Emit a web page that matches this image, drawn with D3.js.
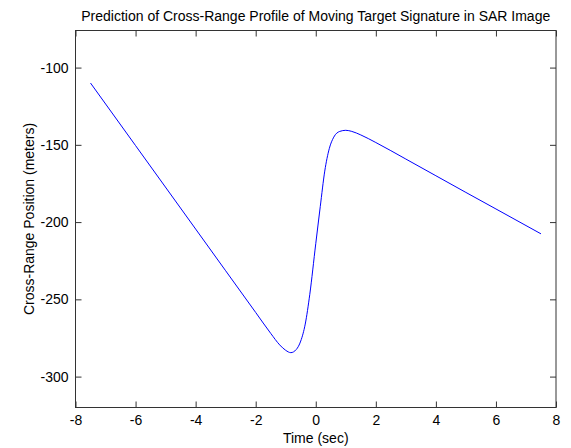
<!DOCTYPE html>
<html><head><meta charset="utf-8">
<script src="https://cdn.jsdelivr.net/npm/d3@7"></script>
<style>body{margin:0;background:#fff;} text{font-family:"Liberation Sans",Arial,sans-serif;}</style>
</head><body>
<svg id="c" width="571" height="448"></svg>
<script>
const titleText = "Prediction of Cross-Range Profile of Moving Target Signature in SAR Image";
const xLabel = "Time (sec)";
const yLabel = "Cross-Range Position (meters)";
const xTicks = [-8,-6,-4,-2,0,2,4,6,8];
const yTicks = [-300,-250,-200,-150,-100];
const time = [-7.5,-6,-4,-3,-2,-1.5,-1.2,-1.0,-0.83,-0.65,-0.5,-0.35,-0.2,0,0.15,0.3,0.45,0.6,0.8,1.0,1.2,1.5,2,3,4,5,6,7.5];
const position = [-110,-150.5,-204.5,-231.5,-258.5,-272,-279.5,-283,-284.5,-282.5,-277,-266,-247,-214,-190,-167,-152.5,-145,-141.3,-140.6,-141.3,-143.6,-148.5,-159.2,-170,-180.8,-191.5,-207.6];

const m = {left:75.5, right:556, top:30.5, bottom:407.5};
const svg = d3.select("#c");
const x = d3.scaleLinear().domain([-8,8]).range([m.left,m.right]);
const y = d3.scaleLinear().domain([-320,-76]).range([m.bottom,m.top]);
const axCol = "#333";
const fs = "14px";
const fmt = d => String(d);

function styleAxis(g, labels){
  g.select(".domain").remove();
  g.selectAll(".tick line").attr("stroke",axCol);
  g.selectAll(".tick text").attr("fill","#000").style("font-size",fs);
  if(!labels) g.selectAll(".tick text").remove();
}
svg.append("g").attr("transform",`translate(0,${m.bottom})`)
  .call(d3.axisBottom(x).tickValues(xTicks).tickSize(-6).tickPadding(8).tickFormat(fmt))
  .call(g=>styleAxis(g,true));
svg.append("g").attr("transform",`translate(0,${m.top})`)
  .call(d3.axisTop(x).tickValues(xTicks).tickSize(-6).tickFormat(""))
  .call(g=>styleAxis(g,false));
svg.append("g").attr("transform",`translate(${m.left},0)`)
  .call(d3.axisLeft(y).tickValues(yTicks).tickSize(-6).tickPadding(7).tickFormat(fmt))
  .call(g=>styleAxis(g,true));
svg.append("g").attr("transform",`translate(${m.right},0)`)
  .call(d3.axisRight(y).tickValues(yTicks).tickSize(-6).tickFormat(""))
  .call(g=>styleAxis(g,false));
svg.append("rect").attr("x",m.left).attr("y",m.top).attr("width",m.right-m.left).attr("height",m.bottom-m.top)
  .attr("fill","none").attr("stroke",axCol).attr("stroke-width",1);

const line = d3.line().x((d,i)=>x(time[i])).y(d=>y(d)).curve(d3.curveMonotoneX);
svg.append("path").datum(position).attr("d",line).attr("fill","none").attr("stroke","#0000ff").attr("stroke-width",1);

svg.append("text").attr("x",(m.left+m.right)/2).attr("y",21).attr("text-anchor","middle").style("font-size",fs).text(titleText);
svg.append("text").attr("x",(m.left+m.right)/2).attr("y",443).attr("text-anchor","middle").style("font-size",fs).text(xLabel);
svg.append("text").attr("transform",`translate(34,${(m.top+m.bottom)/2}) rotate(-90)`).attr("text-anchor","middle").style("font-size",fs).text(yLabel);
</script>
</body></html>
